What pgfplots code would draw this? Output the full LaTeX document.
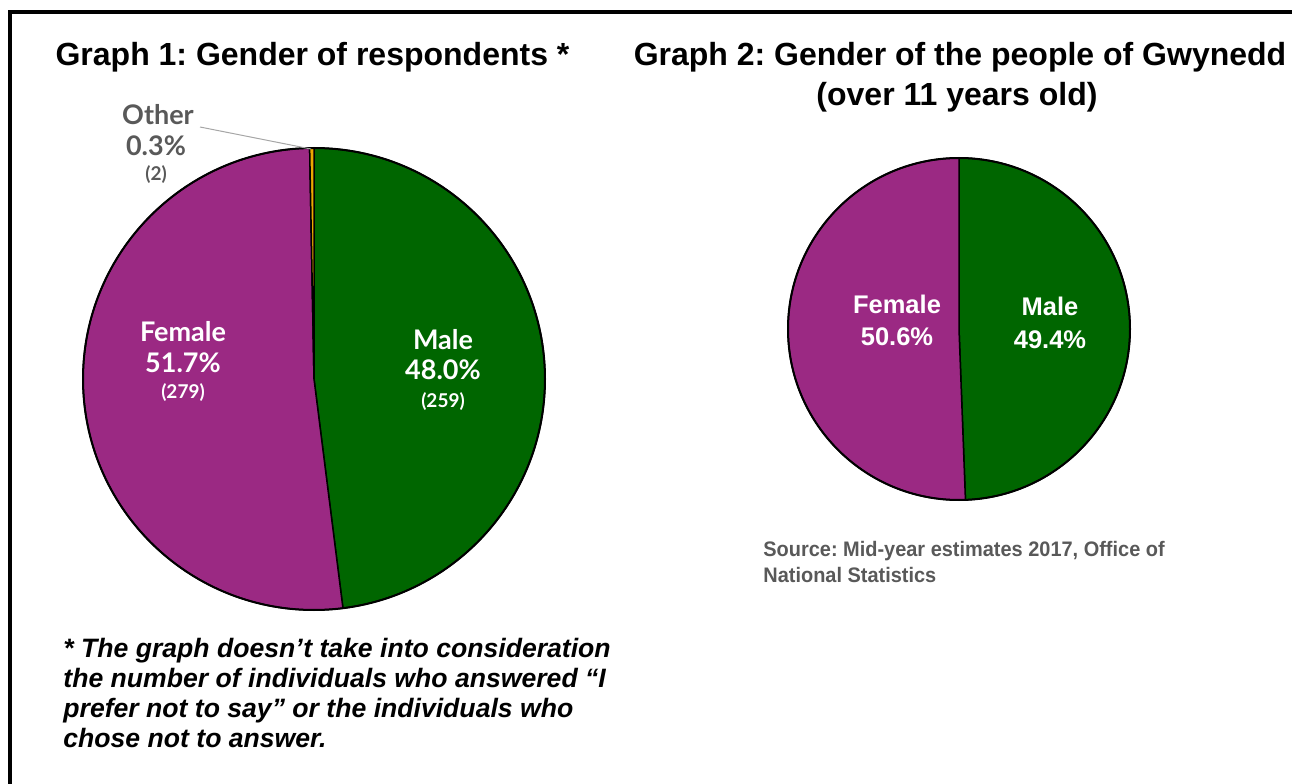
\documentclass[border=0pt]{standalone}
\usepackage{pgfplots}
\pgfplotsset{compat=1.18}
\usepackage{pgfplotstable}
\usepackage{fontspec}
\setmainfont{Liberation Sans}
\newfontfamily\gill{Lato}
\newfontfamily\narrow{Liberation Sans}[FakeStretch=0.95]
\frenchspacing

\definecolor{male}{HTML}{006600}
\definecolor{female}{HTML}{9B2983}
\definecolor{other}{HTML}{EBA900}
\definecolor{lbl}{HTML}{595959}

% Graph 1: respondents (percent, count)
\pgfplotstableread{
group value count
Male 48.0 259
Female 51.7 279
Other 0.3 2
}\respondents
% Graph 2: Gwynedd population over 11
\pgfplotstableread{
group value
Male 49.4
Female 50.6
}\gwynedd

% slice: colour, start angle, end angle, radius
\newcommand{\pieslice}[4]{%
  \filldraw[fill=#1, draw=black, line width=0.75pt, line join=round]
    (axis cs:0,0) -- (axis cs:{cos(#2)},{sin(#2)})
    arc[start angle=#2, end angle=#3, radius=#4] -- cycle;}

\begin{document}
\begin{tikzpicture}[x=0.5pt, y=0.5pt]
\useasboundingbox (0,0) rectangle (1292,783);
\coordinate (c1) at (314,404);
\coordinate (c2) at (959,454);

% angles, clockwise from 12 o'clock
\pgfplotstablegetelem{0}{value}\of\respondents \let\vM\pgfplotsretval
\pgfplotstablegetelem{1}{value}\of\respondents \let\vF\pgfplotsretval
\pgfplotstablegetelem{2}{value}\of\respondents \let\vO\pgfplotsretval
\pgfmathsetmacro\aM{90-3.6*\vM}
\pgfmathsetmacro\aF{\aM-3.6*\vF}
\pgfmathsetmacro\aO{\aF-3.6*\vO}
\pgfplotstablegetelem{0}{value}\of\gwynedd \let\wM\pgfplotsretval
\pgfplotstablegetelem{1}{value}\of\gwynedd \let\wF\pgfplotsretval
\pgfmathsetmacro\bM{90-3.6*\wM}
\pgfmathsetmacro\bF{\bM-3.6*\wF}

% frame
\draw[line width=2pt] (10,-5) -- (10,771) -- (1300,771);

\begin{axis}[at={(c1)}, anchor=center, width=231pt, height=231pt,
  scale only axis, hide axis, clip=false,
  xmin=-1, xmax=1, ymin=-1, ymax=1]
  \pieslice{male}{90}{\aM}{115.5pt}
  \pieslice{female}{\aM}{\aF}{115.5pt}
  \pieslice{other}{\aF}{\aO}{115.5pt}
  \draw[line width=1pt] (axis cs:0,0) circle[radius=115.5pt];
\end{axis}

\begin{axis}[at={(c2)}, anchor=center, width=171pt, height=171pt,
  scale only axis, hide axis, clip=false,
  xmin=-1, xmax=1, ymin=-1, ymax=1]
  \pieslice{male}{90}{\bM}{85.5pt}
  \pieslice{female}{\bM}{\bF}{85.5pt}
  \draw[line width=1pt] (axis cs:0,0) circle[radius=85.5pt];
\end{axis}

% titles
\begin{scope}[every node/.style={anchor=base, inner sep=0pt, font=\bfseries\fontsize{16}{19}\selectfont}]
\node at (312.5,717) {Graph 1: Gender of respondents *};
\node at (960,717) {Graph 2: Gender of the people of Gwynedd};
\node at (957,677) {(over 11 years old)};
\end{scope}

% graph 1 labels
\begin{scope}[every node/.style={anchor=base, inner sep=0pt, text=white}]
\node[font=\gill\bfseries\fontsize{13.5}{16}\selectfont] at (183,441) {Female};
\node[font=\gill\bfseries\fontsize{13.5}{16}\selectfont] at (183,410) {51.7\%};
\node[font=\gill\bfseries\fontsize{9.5}{11}\selectfont] at (183,384) {(279)};
\node[font=\gill\bfseries\fontsize{13.5}{16}\selectfont] at (443,433) {Male};
\node[font=\gill\bfseries\fontsize{13.5}{16}\selectfont] at (443,403) {48.0\%};
\node[font=\gill\bfseries\fontsize{9.5}{11}\selectfont] at (443,375) {(259)};
\end{scope}
\begin{scope}[every node/.style={anchor=base, inner sep=0pt, text=lbl}]
\node[font=\gill\bfseries\fontsize{13.5}{16}\selectfont] at (158,658) {Other};
\node[font=\gill\bfseries\fontsize{13.5}{16}\selectfont] at (156,627) {0.3\%};
\node[font=\gill\bfseries\fontsize{9.5}{11}\selectfont] at (156,602) {(2)};
\end{scope}
\draw[black!35, line width=0.5pt] (200,656) -- (311,634);

% graph 2 labels
\begin{scope}[every node/.style={anchor=base, inner sep=0pt, text=white, font=\bfseries\fontsize{12.75}{15}\selectfont}]
\node at (897,469) {Female};
\node at (897,437) {50.6\%};
\node at (1050,467) {Male};
\node at (1050,434) {49.4\%};
\end{scope}

% source
\begin{scope}[every node/.style={anchor=base west, inner sep=0pt, text=lbl, font=\narrow\bfseries\fontsize{10.5}{12}\selectfont}]
\node at (763,226) {Source: Mid-year estimates 2017, Office of};
\node at (763,200) {National Statistics};
\end{scope}

% footnote
\begin{scope}[every node/.style={anchor=base west, inner sep=0pt, font=\bfseries\itshape\fontsize{13.3}{15}\selectfont}]
\node at (63,126) {* The graph doesn’t take into consideration};
\node at (63,96) {the number of individuals who answered “I};
\node at (63,66) {prefer not to say” or the individuals who};
\node at (63,36) {chose not to answer.};
\end{scope}
\end{tikzpicture}
\end{document}
